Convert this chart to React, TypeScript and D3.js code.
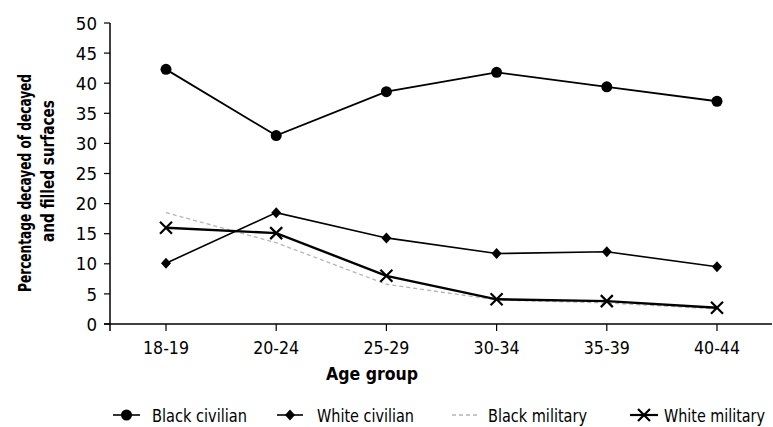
import React from "react";
import * as d3 from "d3";

const categories = ["18-19", "20-24", "25-29", "30-34", "35-39", "40-44"];
const blackCivilian = [42.3, 31.3, 38.6, 41.8, 39.4, 37.0];
const whiteCivilian = [10.1, 18.5, 14.3, 11.7, 12.0, 9.5];
const blackMilitary = [18.5, 13.5, 6.6, 4.0, 3.5, 2.5];
const whiteMilitary = [16.0, 15.1, 8.0, 4.1, 3.8, 2.7];
const yTicks = [0, 5, 10, 15, 20, 25, 30, 35, 40, 45, 50];
const legendLabels = ["Black civilian", "White civilian", "Black military", "White military"];

const FONT = "'DejaVu Sans Condensed', 'Liberation Sans Narrow', 'DejaVu Sans', sans-serif";

export default function App() {
  const W = 773, H = 427;
  const x = d3.scalePoint<string>().domain(categories).range([166, 717]);
  const y = d3.scaleLinear().domain([0, 50]).range([324, 23]);
  const line = d3
    .line<number>()
    .x((_, i) => x(categories[i]) as number)
    .y((d) => y(d));

  const circleMarker = (cx: number, cy: number, key: string) => (
    <circle key={key} cx={cx} cy={cy} r={5.5} fill="#000" />
  );
  const diamondMarker = (cx: number, cy: number, key: string) => (
    <path key={key} d={`M${cx},${cy - 5.5}L${cx + 5},${cy}L${cx},${cy + 5.5}L${cx - 5},${cy}Z`} fill="#000" />
  );
  const xMarker = (cx: number, cy: number, key: string) => (
    <path
      key={key}
      d={`M${cx - 6},${cy - 6}L${cx + 6},${cy + 6}M${cx - 6},${cy + 6}L${cx + 6},${cy - 6}`}
      stroke="#000"
      strokeWidth={2.2}
    />
  );

  const legendY = 415;
  const SX = 0.78;
  const legendItems = [
    { sx: 113, ex: 140, tx: 152, tw: 95 },
    { sx: 277, ex: 303, tx: 317, tw: 97 },
    { sx: 452, ex: 478, tx: 488, tw: 99 },
    { sx: 630, ex: 658, tx: 664, tw: 101 },
  ];

  return (
    <svg width={W} height={H} style={{ position: "absolute", left: 0, top: 0, background: "#fff" }} fontFamily={FONT}>
      <rect width={W} height={H} fill="#fff" />
      {/* Axes */}
      <line x1={110} y1={23} x2={110} y2={331} stroke="#000" strokeWidth={1.5} />
      <line x1={104} y1={324} x2={772} y2={324} stroke="#000" strokeWidth={1.5} />
      {yTicks.map((t) => (
        <g key={t}>
          <line x1={104} x2={110} y1={y(t)} y2={y(t)} stroke="#000" strokeWidth={1.2} />
          <text x={97} y={y(t)} dy="0.36em" textAnchor="end" fontSize={18.5} fill="#000">
            {t}
          </text>
        </g>
      ))}
      {categories.map((c) => (
        <g key={c}>
          <line x1={x(c)} x2={x(c)} y1={324} y2={331} stroke="#000" strokeWidth={1.2} />
          <text x={x(c)} y={347} dy="0.36em" textAnchor="middle" fontSize={18.5} fill="#000" textLength={46} lengthAdjust="spacingAndGlyphs">
            {c}
          </text>
        </g>
      ))}
      <text x={372} y={373} dy="0.36em" textAnchor="middle" fontSize={18.5} fontWeight="bold" fill="#000" textLength={92} lengthAdjust="spacingAndGlyphs">
        Age group
      </text>
      <g transform="translate(25,183) rotate(-90)">
        <text x={0} y={0} dy="0.36em" textAnchor="middle" fontSize={18} fontWeight="bold" fill="#000" textLength={218} lengthAdjust="spacingAndGlyphs">
          Percentage decayed of decayed
        </text>
      </g>
      <g transform="translate(48,171) rotate(-90)">
        <text x={0} y={0} dy="0.36em" textAnchor="middle" fontSize={18} fontWeight="bold" fill="#000" textLength={142} lengthAdjust="spacingAndGlyphs">
          and filled surfaces
        </text>
      </g>

      {/* Lines */}
      <path d={line(blackMilitary) || ""} fill="none" stroke="#b5b5b5" strokeWidth={1.3} strokeDasharray="4,3" />
      <path d={line(whiteCivilian) || ""} fill="none" stroke="#000" strokeWidth={1.6} />
      <path d={line(whiteMilitary) || ""} fill="none" stroke="#000" strokeWidth={2.4} />
      <path d={line(blackCivilian) || ""} fill="none" stroke="#000" strokeWidth={1.8} />

      {blackCivilian.map((v, i) => circleMarker(x(categories[i]) as number, y(v), "bc" + i))}
      {whiteCivilian.map((v, i) => diamondMarker(x(categories[i]) as number, y(v), "wc" + i))}
      {whiteMilitary.map((v, i) => xMarker(x(categories[i]) as number, y(v), "wm" + i))}

      {/* Legend */}
      {legendItems.map((it, i) => {
        const cx = (it.sx + it.ex) / 2;
        return (
          <g key={i}>
            {i === 2 ? (
              <line x1={it.sx} x2={it.ex} y1={legendY} y2={legendY} stroke="#b5b5b5" strokeWidth={1.3} strokeDasharray="4,3" />
            ) : (
              <line x1={it.sx} x2={it.ex} y1={legendY} y2={legendY} stroke="#000" strokeWidth={i === 3 ? 2.2 : 1.6} />
            )}
            {i === 0 && circleMarker(cx, legendY, "lm0")}
            {i === 1 && diamondMarker(cx, legendY, "lm1")}
            {i === 3 && xMarker(cx, legendY, "lm3")}
            <g transform={`translate(${it.tx},${legendY}) scale(${SX},1)`}>
              <text x={0} y={0} dy="0.36em" fontSize={18.5} fill="#000" textLength={it.tw / SX} lengthAdjust="spacingAndGlyphs">
                {legendLabels[i]}
              </text>
            </g>
          </g>
        );
      })}
    </svg>
  );
}
